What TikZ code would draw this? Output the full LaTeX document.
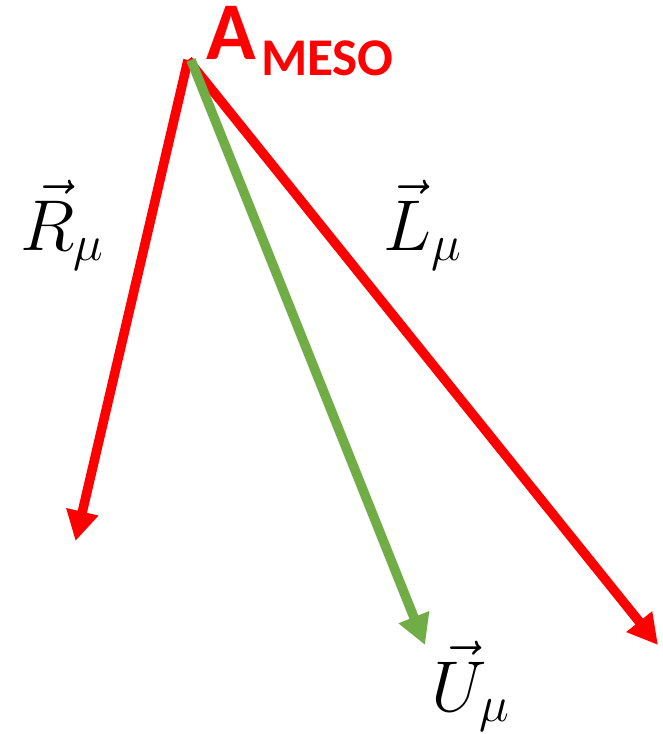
\documentclass[tikz,border=0pt]{standalone}
\usepackage{fix-cm}
\usepackage{fontspec}
\newfontfamily\calfont{Carlito}
\usetikzlibrary{arrows.meta}
\definecolor{vred}{RGB}{255,0,0}
\definecolor{vgreen}{RGB}{112,173,71}
\begin{document}
\begin{tikzpicture}[x=1pt,y=-1pt,
  vec/.style={line width=9.5pt,-{Triangle[length=30pt,width=31pt]}},
  lab/.style={inner sep=0pt,anchor=base west,font=\fontsize{72}{80}\selectfont}]
\useasboundingbox (0,0) rectangle (663,734);
\coordinate (O) at (188,60);
\coordinate (OG) at (191,60);
\coordinate (Rt) at (75.5,541);
\coordinate (Gt) at (425,645);
\coordinate (Lt) at (658,645);
\draw[vec,vred] (O) -- (Rt);
\draw[vec,vred] (O) -- (Lt);
\draw[vec,vgreen] (OG) -- (Gt);
\node[lab] (R) at (20,250) {$\vec{R}_\mu$};
\node[lab] (L) at (383,250) {$\vec{L}_\mu$};
\node[lab] (U) at (431,711) {$\vec{U}_\mu$};
\node[inner sep=0pt,anchor=base west,text=vred,font=\calfont\bfseries\fontsize{82}{86}\selectfont] (A) at (206,59) {A};
\node[inner sep=0pt,anchor=base west,text=vred,font=\calfont\bfseries\fontsize{53}{60}\selectfont] (M) at (261,75) {MESO};
\end{tikzpicture}
\end{document}
